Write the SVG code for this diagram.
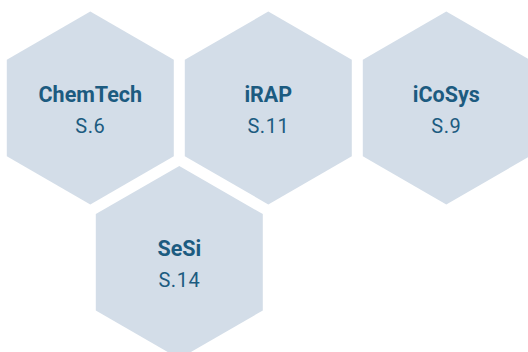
<svg xmlns="http://www.w3.org/2000/svg" xmlns:xlink="http://www.w3.org/1999/xlink" width="528" height="352" viewBox="0 0 528 352">
  <style>
    .hex { fill: #d3dde8; }
    .title { font-family: Roboto, "Liberation Sans", sans-serif; font-weight: 700; font-size: 21.5px; fill: #1c5b80; text-anchor: middle; }
    .page { font-family: Roboto, "Liberation Sans", sans-serif; font-weight: 400; font-size: 20px; letter-spacing: 0.5px; fill: #1c5b80; text-anchor: middle; }
  </style>
  <defs>
    <polygon id="hexShape" points="0,-96.4 83.5,-48.2 83.5,48.2 0,96.4 -83.5,48.2 -83.5,-48.2"/>
  </defs>
  <rect width="528" height="352" fill="#ffffff"/>
  <g id="connectors"/>
  <g id="node-chemtech" transform="translate(90.3,108)">
    <use xlink:href="#hexShape" class="hex"/>
    <text class="title" x="0" y="-6.3">ChemTech</text>
    <text class="page" x="0" y="24.7">S.6</text>
  </g>
  <g id="node-irap" transform="translate(268.3,108)">
    <use xlink:href="#hexShape" class="hex"/>
    <text class="title" x="0" y="-6.3">iRAP</text>
    <text class="page" x="0" y="24.7">S.11</text>
  </g>
  <g id="node-icosys" transform="translate(446.3,108)">
    <use xlink:href="#hexShape" class="hex"/>
    <text class="title" x="0" y="-6.3">iCoSys</text>
    <text class="page" x="0" y="24.7">S.9</text>
  </g>
  <g id="node-sesi" transform="translate(179.3,262.3)">
    <use xlink:href="#hexShape" class="hex"/>
    <text class="title" x="0" y="-6.3">SeSi</text>
    <text class="page" x="0" y="24.7">S.14</text>
  </g>
</svg>
